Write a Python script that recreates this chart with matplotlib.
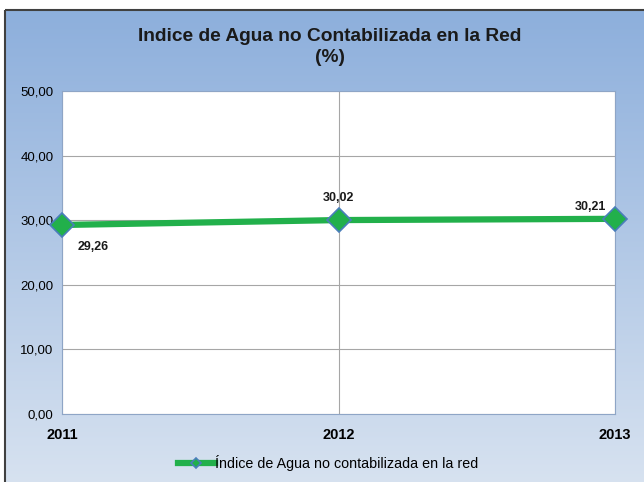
import numpy as np
import matplotlib.pyplot as plt
from matplotlib.patches import Rectangle
from matplotlib.colors import LinearSegmentedColormap

plt.rcParams['font.family'] = ['Liberation Sans', 'DejaVu Sans']

years = ['2011', '2012', '2013']
values = [29.26, 30.02, 30.21]
labels = ['29,26', '30,02', '30,21']
yticks = [0, 10, 20, 30, 40, 50]

W, H = 644, 482
fig = plt.figure(figsize=(W / 100, H / 100), dpi=100)

# gradient background with dark frame
bg = fig.add_axes([0, 0, 1, 1])
bg.set_axis_off()
cmap = LinearSegmentedColormap.from_list('bg', ['#8DAFDC', '#D7E2F0'])
grad = np.linspace(0, 1, 256).reshape(-1, 1)
bg.imshow(grad, cmap=cmap, aspect='auto', extent=[5, W + 2, H + 2, 10])
bg.set_xlim(0, W)
bg.set_ylim(H, 0)
bg.add_patch(Rectangle((5, 10), W, H, fill=False, edgecolor='#404040', lw=1.5))

ax = fig.add_axes([62 / W, 1 - 414 / H, (615 - 62) / W, (414 - 91) / H])
x = np.arange(len(years))
ax.set_facecolor('white')
ax.plot(x, values, color='#22B04B', lw=4.5, marker='D', markersize=12,
        markerfacecolor='#22B04B', markeredgecolor='#4A7EBB', markeredgewidth=1.2,
        clip_on=False, zorder=5, label='Índice de Agua no contabilizada en la red')
ax.set_xlim(0, 2)
ax.set_ylim(0, 50)
ax.set_yticks(yticks)
ax.set_yticklabels([f'{v},00' for v in yticks], fontsize=9.5)
ax.set_xticks(x)
ax.set_xticklabels(years, fontsize=10.5, fontweight='bold')
ax.tick_params(length=0)
ax.tick_params(axis='x', pad=10)
ax.tick_params(axis='y', pad=6)
ax.grid(True, color='#A6A6A6', lw=0.8)
for s in ax.spines.values():
    s.set_color('#8EA5C6')

offsets = [(31, -22), (0, 22), (-25, 12)]
for xi, v, lab, off in zip(x, values, labels, offsets):
    ax.annotate(lab, (xi, v), xytext=off, textcoords='offset pixels',
                ha='center', va='center', fontsize=9, fontweight='bold', color='#1A1A1A')

fig.text(330 / W, 1 - 47 / H, 'Indice de Agua no Contabilizada en la Red\n(%)',
         ha='center', va='center', fontsize=13.8, fontweight='bold', color='#1A1A1A',
         linespacing=1.25)

fig.legend(loc='center', bbox_to_anchor=(328 / W, 1 - 463 / H), frameon=False,
           fontsize=10.3, handlelength=2.6, handletextpad=0.0, markerscale=0.4)

fig.savefig('out.png', dpi=100)
